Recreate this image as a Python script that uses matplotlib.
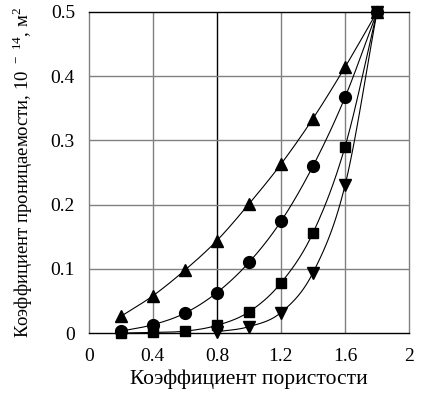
import numpy as np
import matplotlib.pyplot as plt

plt.rcParams['font.family'] = ['Liberation Serif', 'DejaVu Serif']
plt.rcParams['mathtext.fontset'] = 'custom'
plt.rcParams['mathtext.rm'] = 'Liberation Serif'

# data
x_all = [0.2, 0.4, 0.6, 0.8, 1.0, 1.2, 1.4, 1.6, 1.8]
k_tri_up = [0.026, 0.058, 0.098, 0.144, 0.201, 0.263, 0.334, 0.414, 0.5]
k_circle = [0.003, 0.013, 0.031, 0.063, 0.110, 0.174, 0.260, 0.367, 0.5]
k_square = [0.0, 0.001, 0.003, 0.012, 0.033, 0.078, 0.156, 0.290, 0.5]
x_tri_down = [0.8, 1.0, 1.2, 1.4, 1.6, 1.8]
k_tri_down = [0.002, 0.010, 0.032, 0.094, 0.230, 0.5]


def smooth(x, y, n=20):
    # Catmull-Rom curve through the points, only for drawing the line
    x = np.asarray(x, float)
    y = np.asarray(y, float)
    px = np.concatenate([[2 * x[0] - x[1]], x, [2 * x[-1] - x[-2]]])
    py = np.concatenate([[2 * y[0] - y[1]], y, [2 * y[-1] - y[-2]]])
    t = np.linspace(0, 1, n)[:, None]
    xs, ys = [], []
    for i in range(1, len(px) - 2):
        for p, out in ((px, xs), (py, ys)):
            p0, p1, p2, p3 = p[i - 1], p[i], p[i + 1], p[i + 2]
            v = 0.5 * (2 * p1 + (-p0 + p2) * t + (2 * p0 - 5 * p1 + 4 * p2 - p3) * t ** 2
                       + (-p0 + 3 * p1 - 3 * p2 + p3) * t ** 3)
            out.append(v.ravel())
    return np.concatenate(xs), np.concatenate(ys)


fig = plt.figure(figsize=(4.27, 3.97), dpi=100)
ax = fig.add_axes([0.208, 0.161, 0.75, 0.809])

for xv in [0.4, 0.8, 1.2, 1.6]:
    ax.axvline(xv, color='black' if xv == 0.8 else '#808080', lw=1.0, zorder=0)
for yv in [0.1, 0.2, 0.3, 0.4]:
    ax.axhline(yv, color='#808080', lw=1.0, zorder=0)

series = [
    (x_all, k_tri_up, '^', 9),
    (x_all, k_circle, 'o', 8.5),
    (x_all, k_square, 's', 7.5),
    (x_tri_down, k_tri_down, 'v', 9),
]
for xs, ys, m, ms in series:
    sx, sy = smooth(xs, ys)
    ax.plot(sx, sy, color='black', lw=0.8, zorder=2)
    ax.plot(xs, ys, m, color='black', ms=ms, zorder=3, clip_on=False)

ax.set_xlim(0, 2)
ax.set_ylim(0, 0.5)
ax.set_xticks([0, 0.4, 0.8, 1.2, 1.6, 2])
ax.set_xticklabels(['0', '0.4', '0.8', '1.2', '1.6', '2'])
ax.set_yticks([0, 0.1, 0.2, 0.3, 0.4, 0.5])
ax.set_yticklabels(['0', '0.1', '0.2', '0.3', '0.4', '0.5'])
ax.tick_params(axis='x', length=0, labelsize=14, pad=11)
ax.tick_params(axis='y', length=0, labelsize=14, pad=10)

ax.spines['left'].set_color('#808080')
ax.spines['right'].set_color('#808080')
for s in ax.spines.values():
    s.set_linewidth(1.0)

ax.set_xlabel('Коэффициент пористости', fontsize=15.5, labelpad=3)
ax.set_ylabel('Коэффициент проницаемости, 10$^{\\ -\\ 14}$, м$^{2}$', fontsize=13.5, labelpad=11)

fig.savefig('out.png', dpi=100)
